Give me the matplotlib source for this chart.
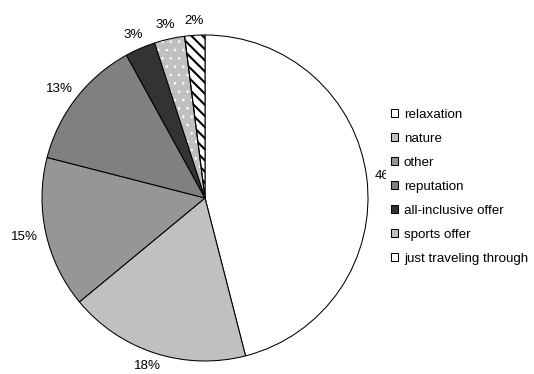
import numpy as np
import matplotlib
matplotlib.use("Agg")
import matplotlib.pyplot as plt
from matplotlib.patches import Patch, Wedge

# Reasons for choosing the destination
categories = ["relaxation", "nature", "other", "reputation",
              "all-inclusive offer", "sports offer", "just traveling through"]
shares = [46, 18, 15, 13, 3, 3, 2]
pct_labels = ["46%", "18%", "15%", "13%", "3%", "3%", "2%"]

face_colors = ["#ffffff", "#c0c0c0", "#969696", "#808080",
               "#333333", "#c0c0c0", "#ffffff"]

plt.rcParams["font.family"] = ["Liberation Sans", "DejaVu Sans"]
plt.rcParams["font.size"] = 9.6
plt.rcParams["hatch.linewidth"] = 1.5

W, H = 534, 374
fig = plt.figure(figsize=(W / 100, H / 100), dpi=100)
fig.patch.set_facecolor("white")

# pie placement in pixels
cx, cy, r = 205, 198, 163
ax = fig.add_axes([(cx - r) / W, (H - cy - r) / H, 2 * r / W, 2 * r / H])

wedges, _ = ax.pie(shares, colors=face_colors, startangle=90, counterclock=False,
                   radius=1, wedgeprops=dict(edgecolor="black", linewidth=0.75))
ax.set_xlim(-1, 1)
ax.set_ylim(-1, 1)
ax.set_aspect("equal")
ax.axis("off")

# dotted fill for "sports offer": white dots plus a black outline on top
dots = wedges[5]
dots.set_hatch("..")
dots.set_edgecolor("white")
dots.set_linewidth(0)
if hasattr(dots, "set_hatch_linewidth"):
    dots.set_hatch_linewidth(0.6)
ax.add_patch(Wedge((0, 0), 1, dots.theta1, dots.theta2, fill=False,
                   edgecolor="black", linewidth=0.75))

# striped fill for "just traveling through"
stripes = wedges[6]
stripes.set_hatch("\\\\\\")
stripes.set_edgecolor("black")

# percentage labels just outside each wedge
label_texts = []
for w, txt in zip(wedges, pct_labels):
    ang = np.deg2rad((w.theta1 + w.theta2) / 2)
    c, s = np.cos(ang), np.sin(ang)
    t = ax.annotate(txt, xy=(1.05 * c, 1.05 * s), xytext=(0, 0),
                    textcoords="offset pixels", ha="center", va="center",
                    annotation_clip=False)
    label_texts.append((t, c, s))

fig.canvas.draw()
for t, c, s in label_texts:
    bb = t.get_window_extent()
    t.xyann = (c * bb.width / 2, s * bb.height / 2)

handles = [Patch(facecolor=fc, edgecolor="black", linewidth=0.75) for fc in face_colors]
leg = fig.legend(handles, categories, loc="center left",
                 bbox_to_anchor=(386 / W, 1 - 187 / H), borderaxespad=0,
                 borderpad=0.4, handlelength=0.5, handleheight=0.5,
                 handletextpad=0.45, labelspacing=0.9,
                 frameon=True, fancybox=False, framealpha=1,
                 facecolor="white", edgecolor="none")

fig.savefig("out.png", dpi=100)
